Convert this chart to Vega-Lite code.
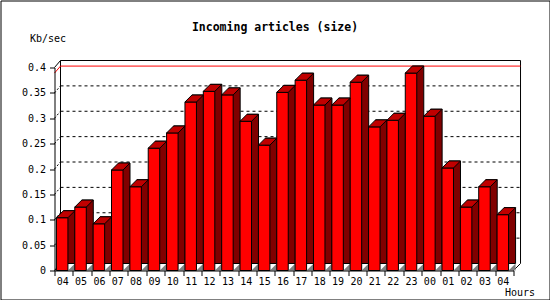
{
  "$schema": "https://vega.github.io/schema/vega-lite/v6.json",
  "width": 549,
  "height": 299,
  "autosize": {"type": "none"},
  "padding": {"left": 0.5, "top": 0.5, "right": 0.5, "bottom": 0.5},
  "background": "white",
  "config": {"view": {"stroke": "black", "strokeWidth": 1}, "font": "DejaVu Sans Mono"},
  "title": {"text": "Incoming articles (size)", "font": "DejaVu Sans Mono", "fontSize": 11.5, "fontWeight": "bold", "color": "black", "anchor": "middle", "frame": "group", "baseline": "middle", "offset": -39},
  "resolve": {"axis": {"x": "independent", "y": "independent"}},
  "data": {"values": [
    {"hour": "04", "kbps": 0.104},
    {"hour": "05", "kbps": 0.125},
    {"hour": "06", "kbps": 0.092},
    {"hour": "07", "kbps": 0.198},
    {"hour": "08", "kbps": 0.165},
    {"hour": "09", "kbps": 0.241},
    {"hour": "10", "kbps": 0.271},
    {"hour": "11", "kbps": 0.332},
    {"hour": "12", "kbps": 0.353},
    {"hour": "13", "kbps": 0.346},
    {"hour": "14", "kbps": 0.294},
    {"hour": "15", "kbps": 0.247},
    {"hour": "16", "kbps": 0.351},
    {"hour": "17", "kbps": 0.375},
    {"hour": "18", "kbps": 0.326},
    {"hour": "19", "kbps": 0.326},
    {"hour": "20", "kbps": 0.371},
    {"hour": "21", "kbps": 0.283},
    {"hour": "22", "kbps": 0.296},
    {"hour": "23", "kbps": 0.389},
    {"hour": "00", "kbps": 0.304},
    {"hour": "01", "kbps": 0.202},
    {"hour": "02", "kbps": 0.125},
    {"hour": "03", "kbps": 0.165},
    {"hour": "04+", "kbps": 0.110}
  ]},
  "layer": [
    {
      "data": {"values": [{}]},
      "layer": [
        {
          "mark": {"type": "rule", "stroke": "black", "strokeWidth": 1, "xOffset": -3.18, "x2Offset": 16.2, "yOffset": -7},
          "encoding": {
            "x": {"datum": "04", "type": "nominal", "axis": null},
            "x2": {"datum": "04+"},
            "y": {"datum": 0.4, "type": "quantitative", "axis": null}
          }
        },
        {
          "mark": {"type": "rule", "stroke": "black", "strokeWidth": 1, "xOffset": -3.18, "yOffset": -7, "y2Offset": -7},
          "encoding": {
            "x": {"datum": "04", "type": "nominal", "axis": null},
            "y": {"datum": 0.4, "type": "quantitative", "axis": null},
            "y2": {"datum": 0}
          }
        },
        {
          "mark": {"type": "rule", "stroke": "black", "strokeWidth": 1, "xOffset": 16.2, "yOffset": -7, "y2Offset": -7},
          "encoding": {
            "x": {"datum": "04+", "type": "nominal", "axis": null},
            "y": {"datum": 0.4, "type": "quantitative", "axis": null},
            "y2": {"datum": 0}
          }
        }
      ]
    },
    {
      "data": {"values": [{"v": 0.05}, {"v": 0.1}, {"v": 0.15}, {"v": 0.2}, {"v": 0.25}, {"v": 0.3}, {"v": 0.35}]},
      "layer": [
        {
          "mark": {"type": "rule", "stroke": "black", "strokeWidth": 1, "strokeDash": [3, 3], "xOffset": -3.18, "x2Offset": 16.2, "yOffset": -7},
          "encoding": {
            "x": {"datum": "04", "type": "nominal", "axis": null},
            "x2": {"datum": "04+"},
            "y": {"field": "v", "type": "quantitative", "axis": null}
          }
        },
        {
          "mark": {"type": "point", "shape": "M0,0L0.6,-0.7", "size": 400, "filled": false, "stroke": "black", "strokeWidth": 1, "strokeDash": [2, 2], "opacity": 1, "xOffset": -9.18},
          "encoding": {
            "x": {"datum": "04", "type": "nominal", "axis": null},
            "y": {"field": "v", "type": "quantitative", "axis": null}
          }
        }
      ]
    },
    {
      "mark": {"type": "rule", "stroke": "#ff0000", "strokeWidth": 1, "xOffset": -3.18, "x2Offset": 16.2, "yOffset": -7},
      "encoding": {
        "x": {"datum": "04", "type": "nominal", "axis": null},
        "x2": {"datum": "04+"},
        "y": {"aggregate": "max", "field": "kbps", "type": "quantitative", "axis": null}
      }
    },
    {
      "mark": {"type": "point", "shape": "M0,0L0.6,-0.7", "size": 400, "filled": false, "stroke": "#ff0000", "strokeWidth": 1, "opacity": 1, "xOffset": -9.18},
      "encoding": {
        "x": {"datum": "04", "type": "nominal", "axis": null},
        "y": {"aggregate": "max", "field": "kbps", "type": "quantitative", "axis": null}
      }
    },
    {
      "data": {"values": [{}]},
      "layer": [
        {
          "mark": {"type": "point", "shape": "M0,0L0.6,-0.7", "size": 400, "filled": false, "stroke": "black", "strokeWidth": 1, "opacity": 1, "xOffset": -9.18},
          "encoding": {
            "x": {"datum": "04", "type": "nominal", "axis": null},
            "y": {"datum": 0.4, "type": "quantitative", "axis": null}
          }
        },
        {
          "mark": {"type": "point", "shape": "M0,0L0.6,-0.7", "size": 400, "filled": false, "stroke": "black", "strokeWidth": 1, "opacity": 1, "xOffset": -9.18},
          "encoding": {
            "x": {"datum": "04", "type": "nominal", "axis": null},
            "y": {"datum": 0, "type": "quantitative", "axis": null}
          }
        },
        {
          "mark": {"type": "point", "shape": "M0,0L0.7,-0.7", "size": 400, "filled": false, "stroke": "black", "strokeWidth": 1, "opacity": 1, "xOffset": 9.18},
          "encoding": {
            "x": {"datum": "04+", "type": "nominal", "axis": null},
            "y": {"datum": 0, "type": "quantitative", "axis": null}
          }
        }
      ]
    },
    {
      "mark": {"type": "bar", "width": {"band": 0.626}, "fill": "#800000", "stroke": "black", "strokeWidth": 1, "xOffset": 5.5, "yOffset": -7},
      "encoding": {
        "x": {"field": "hour", "type": "nominal", "axis": null},
        "y": {"field": "kbps", "type": "quantitative", "axis": null}
      }
    },
    {
      "mark": {"type": "point", "shape": "M0.575,0L1.275,-0.7L1.275,0Z", "size": 400, "filled": true, "fill": "#808080", "strokeWidth": 0, "opacity": 1, "xOffset": -1.5},
      "encoding": {
        "x": {"field": "hour", "type": "nominal", "axis": null},
        "y": {"datum": 0, "type": "quantitative", "axis": null}
      }
    },
    {
      "mark": {"type": "bar", "width": {"band": 0.626}, "fill": "#ff0000", "stroke": "black", "strokeWidth": 1, "xOffset": -1.5},
      "encoding": {
        "x": {
          "field": "hour", "type": "nominal",
          "scale": {"type": "band", "domain": ["04","05","06","07","08","09","10","11","12","13","14","15","16","17","18","19","20","21","22","23","00","01","02","03","04+"], "range": [54, 513], "paddingInner": 0, "paddingOuter": 0},
          "axis": {"orient": "bottom", "offset": -29, "title": "Hours", "titleX": 519, "titleY": 21.7, "titleAlign": "center", "titleBaseline": "middle", "titleFont": "DejaVu Sans Mono", "titleFontSize": 10, "titleFontWeight": "normal", "titleColor": "black", "tickBand": "extent", "tickSize": 5, "tickColor": "black", "domainColor": "black", "labelPadding": 1, "labelOffset": -1.5, "labelAngle": 0, "labelFont": "DejaVu Sans Mono", "labelFontSize": 10, "labelColor": "black", "grid": false, "zindex": 1, "labelExpr": "replace(datum.label, '+', '')"}
        },
        "y": {
          "field": "kbps", "type": "quantitative",
          "scale": {"domain": [0, 0.4], "range": [270, 67], "nice": false, "zero": true},
          "axis": {"orient": "left", "offset": -54, "values": [0, 0.05, 0.1, 0.15, 0.2, 0.25, 0.3, 0.35, 0.4], "format": "~g", "tickSize": 5, "tickColor": "black", "domainColor": "black", "labelPadding": 4, "labelFont": "DejaVu Sans Mono", "labelFontSize": 10, "labelColor": "black", "grid": false, "zindex": 1, "title": "Kb/sec", "titleAngle": 0, "titleX": -7, "titleY": 38, "titleAlign": "center", "titleBaseline": "middle", "titleFont": "DejaVu Sans Mono", "titleFontSize": 10, "titleFontWeight": "normal", "titleColor": "black"}
        }
      }
    },
    {
      "mark": {"type": "point", "shape": "M-0.575,0L0.575,0L1.275,-0.7L0.125,-0.7Z", "size": 400, "filled": true, "fill": "#c00000", "stroke": "black", "strokeWidth": 1, "opacity": 1, "xOffset": -1.5},
      "encoding": {
        "x": {"field": "hour", "type": "nominal", "axis": null},
        "y": {"field": "kbps", "type": "quantitative", "axis": null}
      }
    }
  ]
}
